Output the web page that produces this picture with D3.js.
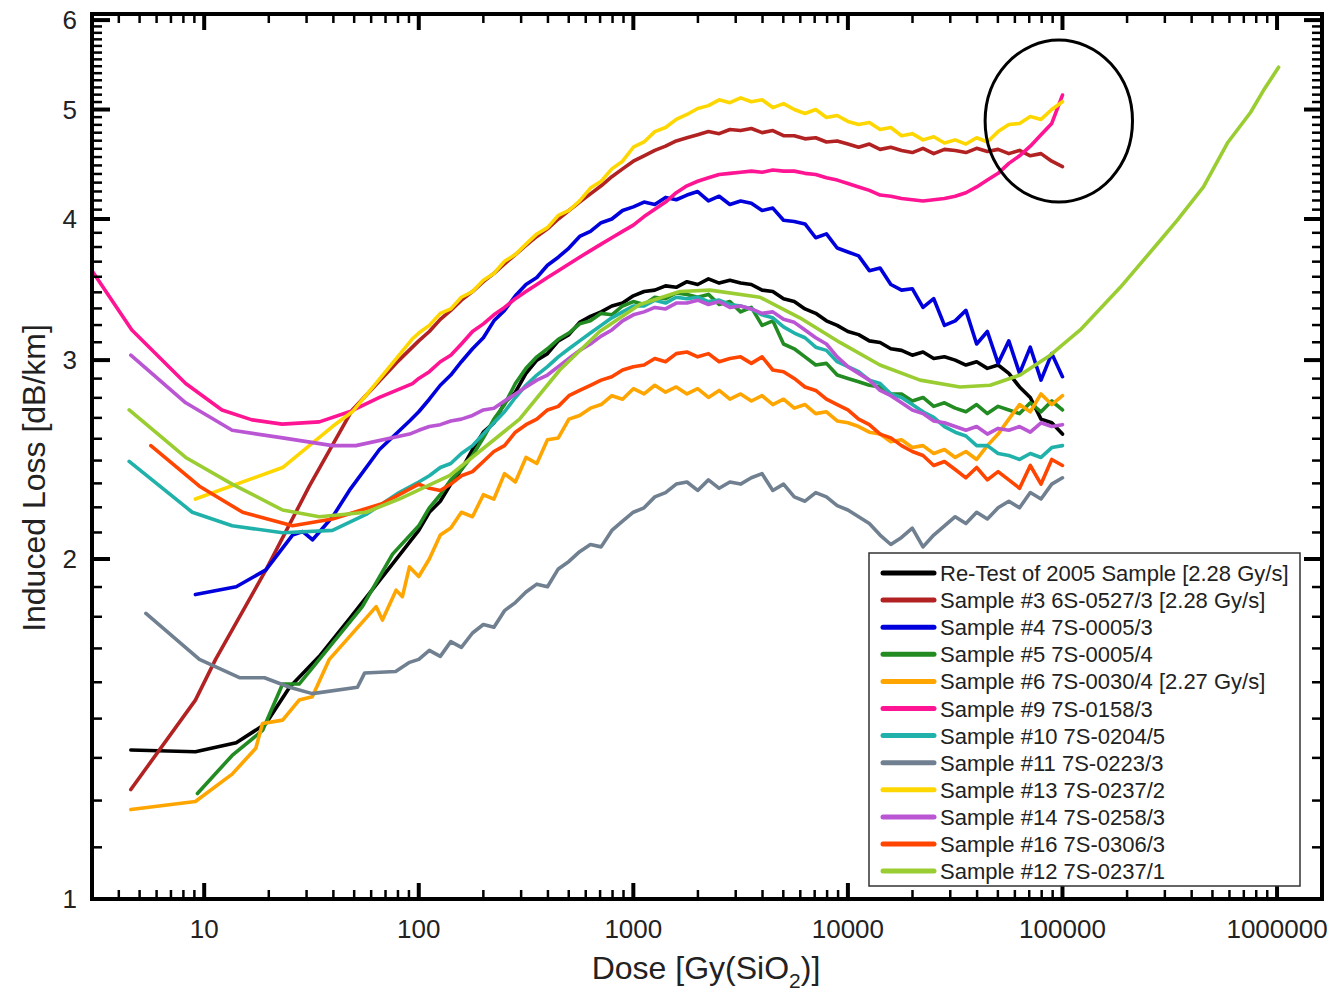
<!DOCTYPE html>
<html><head><meta charset="utf-8">
<script src="https://cdn.jsdelivr.net/npm/d3@7"></script>
<style>
body{margin:0;background:#fff;}
svg{display:block;}
text{font-family:"Liberation Sans",Arial,Helvetica,sans-serif;}
</style>
</head><body>
<svg id="c" width="1337" height="993"></svg>
<script>
// ---------- data: dose [Gy(SiO2)] and induced loss [dB/km] ----------
const seriesNames = [
  "Re-Test of 2005 Sample [2.28 Gy/s]",
  "Sample #3 6S-0527/3 [2.28 Gy/s]",
  "Sample #4 7S-0005/3",
  "Sample #5 7S-0005/4",
  "Sample #6 7S-0030/4 [2.27 Gy/s]",
  "Sample #9 7S-0158/3",
  "Sample #10 7S-0204/5",
  "Sample #11 7S-0223/3",
  "Sample #13 7S-0237/2",
  "Sample #14 7S-0258/3",
  "Sample #16 7S-0306/3",
  "Sample #12 7S-0237/1"
];
const seriesColors = ["#000000","#b22222","#0000dd","#228b22","#ffa500","#ff1493",
  "#20b2aa","#708090","#ffd700","#ba55d3","#ff4500","#9acd32"];

// dose values at which the dense (noisy) part of each record was read, 100 .. 100000 Gy
const doseGrid = [100,112,126,141,158,178,200,224,251,282,316,355,398,447,501,562,631,708,794,891,
  1000,1122,1259,1413,1585,1778,1995,2239,2512,2818,3162,3548,3981,4467,5012,5623,6310,7079,7943,8913,
  10000,11220,12589,14125,15849,17783,19953,22387,25119,28184,31623,35481,39811,44668,50119,56234,63096,
  70795,79433,89125,100000];

// low-dose parts [dose, loss]
const retestLow = [[4.55,1.355],[9.1,1.35],[14.1,1.375],[19.4,1.43],[25,1.54],[34.4,1.64],[47.5,1.77],[75.5,1.98]];
const s3Low = [[4.55,1.25],[9.1,1.5],[11.3,1.63],[19.4,1.956],[30.9,2.32],[49,2.71],[81,3.0]];
const s4Low = [[9.1,1.86],[14.1,1.89],[19.4,1.956],[25.8,2.10],[28.8,2.115],[32,2.08],[39.7,2.18],[47.5,2.30],[65.6,2.50],[90.6,2.65]];
const s5Low = [[9.3,1.24],[13.5,1.34],[18.7,1.41],[23.2,1.55],[27.7,1.55],[34.4,1.63],[54.6,1.815],[75.5,2.02]];
const s6Low = [[4.55,1.20],[9.1,1.22],[13.5,1.29],[17.4,1.36],[18.7,1.43],[23.2,1.44],[27.7,1.50],[31.9,1.51],
  [38.3,1.63],[63.3,1.815],[67.7,1.766],[78.4,1.877],[83.9,1.852],[90.5,1.968]];
const s9Low = [[3,3.6],[4.6,3.19],[8.2,2.86],[12.1,2.71],[16.7,2.656],[23.1,2.633],[34.4,2.645],[47.5,2.70],[65.6,2.78],[93.5,2.86]];
const s10Low = [[4.47,2.44],[8.8,2.20],[13.5,2.14],[23.2,2.11],[39.6,2.12],[56.8,2.19],[81,2.29]];
const s11Low = [[5.35,1.79],[9.5,1.63],[14.6,1.57],[19.1,1.57],[25,1.54],[31.9,1.52],[51.8,1.54],[55.9,1.585],[78,1.59],[90.6,1.62]];
const s13Low = [[9.1,2.26],[23.2,2.41],[39.6,2.62],[49,2.70],[63,2.86],[93,3.13]];
const s14Low = [[4.55,3.03],[8.2,2.75],[13.5,2.60],[23.2,2.56],[39.6,2.52],[50.9,2.52],[90.6,2.58]];
const s16Low = [[5.64,2.52],[9.5,2.32],[15.1,2.20],[25.8,2.14],[39.6,2.17],[68,2.24]];

// loss values on doseGrid
const retestLoss = [2.12,2.20,2.25,2.33,2.40,2.50, 2.59,2.64,2.75,2.81,2.92, 3.00,3.04,3.12,3.16,3.24,
  3.28,3.31,3.35,3.37,3.42, 3.45,3.46,3.49,3.48,3.52, 3.50,3.54,3.51,3.53,3.51, 3.50,3.46,3.45,3.40,3.38,
  3.33,3.30,3.25,3.22,3.18, 3.16,3.12,3.11,3.07,3.06, 3.03,3.05,3.01,3.02,3.00, 2.97,2.99,2.95,2.97,2.92,
  2.84,2.78,2.66,2.64,2.58];
const s3Loss = [3.12,3.18,3.26,3.32,3.39,3.45, 3.52,3.58,3.65,3.72,3.79, 3.86,3.92,4.00,4.07,4.14,
  4.21,4.28,4.36,4.43,4.50, 4.55,4.60,4.64,4.69,4.72, 4.75,4.78,4.76,4.80,4.79, 4.81,4.77,4.79,4.74,4.74,
  4.71,4.72,4.68,4.69,4.66, 4.63,4.66,4.61,4.63,4.60, 4.58,4.62,4.57,4.61,4.60, 4.58,4.62,4.59,4.61,4.57,
  4.60,4.55,4.57,4.50,4.45];
const s4Loss = [2.70,2.77,2.85,2.91,2.99,3.07, 3.14,3.25,3.32,3.42,3.50, 3.55,3.64,3.70,3.77,3.86,
  3.90,3.97,4.00,4.07,4.10, 4.14,4.12,4.18,4.16,4.20, 4.23,4.15,4.19,4.12,4.15, 4.13,4.07,4.09,3.99,3.98,
  3.96,3.85,3.88,3.77,3.74, 3.71,3.60,3.62,3.50,3.46, 3.47,3.34,3.40,3.22,3.25, 3.32,3.10,3.18,2.98,3.12,
  2.92,3.08,2.88,3.04,2.90];
const s5Loss = [2.14,2.22,2.28,2.35,2.40,2.47, 2.56,2.66,2.74,2.86,2.95, 3.02,3.07,3.13,3.17,3.23,
  3.25,3.30,3.29,3.35,3.38, 3.36,3.41,3.40,3.44,3.43, 3.41,3.43,3.36,3.38,3.31, 3.34,3.22,3.25,3.10,3.07,
  3.02,2.97,2.98,2.91,2.89, 2.87,2.85,2.84,2.80,2.80, 2.76,2.78,2.73,2.75,2.72, 2.70,2.74,2.69,2.73,2.71,
  2.69,2.75,2.70,2.76,2.71];
const s6Loss = [1.93,2.00,2.10,2.13,2.20,2.18, 2.28,2.26,2.38,2.34,2.46, 2.43,2.55,2.56,2.66,2.68,
  2.72,2.74,2.79,2.77,2.83, 2.80,2.85,2.81,2.84,2.80, 2.83,2.78,2.82,2.77,2.80, 2.76,2.79,2.74,2.77,2.72,
  2.74,2.69,2.70,2.65,2.64, 2.62,2.59,2.58,2.54,2.55, 2.51,2.52,2.48,2.50,2.46, 2.49,2.45,2.52,2.58,2.66,
  2.74,2.70,2.80,2.74,2.79];
const s9Loss = [2.89,2.93,2.99,3.03,3.10,3.18, 3.23,3.29,3.34,3.40,3.45, 3.50,3.55,3.60,3.65,3.70,
  3.75,3.80,3.85,3.90,3.95, 4.02,4.08,4.14,4.22,4.28, 4.32,4.35,4.38,4.39,4.40, 4.41,4.40,4.42,4.41,4.41,
  4.39,4.38,4.35,4.33,4.30, 4.27,4.24,4.20,4.19,4.17, 4.16,4.15,4.16,4.17,4.19, 4.22,4.27,4.33,4.39,4.48,
  4.55,4.64,4.75,4.86,5.15];
const s10Loss = [2.34,2.37,2.41,2.43,2.48,2.52, 2.58,2.64,2.70,2.78,2.85, 2.91,2.96,3.02,3.07,3.12,
  3.17,3.22,3.27,3.31,3.35, 3.35,3.39,3.37,3.41,3.40, 3.41,3.38,3.39,3.36,3.35, 3.33,3.29,3.27,3.21,3.17,
  3.14,3.08,3.06,2.99,2.96, 2.93,2.88,2.86,2.80,2.78, 2.74,2.70,2.67,2.62,2.59, 2.57,2.52,2.52,2.48,2.47,
  2.45,2.48,2.46,2.51,2.52];
const s11Loss = [1.63,1.66,1.64,1.69,1.67,1.72, 1.75,1.74,1.80,1.83,1.87, 1.90,1.89,1.96,1.99,2.03,
  2.06,2.05,2.12,2.16,2.20, 2.22,2.27,2.29,2.33,2.34, 2.30,2.35,2.31,2.34,2.33, 2.36,2.38,2.30,2.33,2.27,
  2.25,2.29,2.27,2.23,2.21, 2.18,2.15,2.10,2.06,2.09, 2.13,2.05,2.10,2.14,2.18, 2.15,2.20,2.17,2.22,2.25,
  2.22,2.29,2.26,2.33,2.36];
const s13Loss = [3.17,3.22,3.30,3.33,3.41,3.45, 3.53,3.58,3.67,3.72,3.80, 3.88,3.93,4.03,4.07,4.15,
  4.26,4.32,4.43,4.50,4.63, 4.68,4.78,4.82,4.90,4.95, 5.01,5.04,5.10,5.07,5.12, 5.08,5.10,5.02,5.06,5.00,
  4.96,5.00,4.92,4.94,4.88, 4.85,4.87,4.80,4.82,4.74, 4.76,4.70,4.73,4.67,4.70, 4.66,4.72,4.68,4.78,4.85,
  4.86,4.93,4.90,5.00,5.08];
const s14Loss = [2.60,2.62,2.63,2.65,2.66,2.68, 2.71,2.72,2.76,2.80,2.84, 2.88,2.91,2.96,3.01,3.06,
  3.10,3.15,3.19,3.25,3.29, 3.31,3.34,3.33,3.37,3.37, 3.39,3.36,3.38,3.34,3.35, 3.33,3.30,3.31,3.26,3.24,
  3.19,3.14,3.10,3.02,2.96, 2.92,2.88,2.82,2.79,2.75, 2.71,2.69,2.65,2.64,2.62, 2.60,2.62,2.58,2.61,2.60,
  2.62,2.59,2.64,2.62,2.63];
const s16Loss = [2.33,2.31,2.30,2.33,2.37,2.39, 2.44,2.49,2.52,2.59,2.63, 2.66,2.71,2.73,2.79,2.82,
  2.85,2.88,2.90,2.94,2.96, 2.97,3.01,2.99,3.04,3.05, 3.02,3.04,2.99,3.01,3.02, 2.98,3.02,2.94,2.93,2.89,
  2.84,2.82,2.77,2.74,2.71, 2.66,2.63,2.58,2.56,2.52, 2.49,2.47,2.42,2.44,2.40, 2.36,2.41,2.35,2.39,2.35,
  2.31,2.42,2.33,2.45,2.42];
// smooth record, read as [dose, loss]
const s12 = [[4.47,2.71],[8.2,2.46],[13.5,2.33],[23.2,2.21],[34.4,2.18],[56.8,2.20],[81,2.26],[139,2.37],
  [295,2.66],[454,2.94],[697,3.18],[1072,3.36],[1648,3.45],[2275,3.46],[3890,3.41],[5970,3.27],[9180,3.11],
  [14100,2.97],[21700,2.88],[33300,2.84],[46000,2.85],[63500,2.91],[87700,3.03],[121000,3.19],[186000,3.48],
  [286000,3.83],[343000,3.99],[454000,4.27],[587000,4.67],[752000,4.97],[865000,5.20],[1017000,5.45]];

const xTickValues = [10, 100, 1000, 10000, 100000, 1000000];
const xTickLabels = ["10", "100", "1000", "10000", "100000", "1000000"];
const yTickValues = [1, 2, 3, 4, 5, 6];
const yTickLabels = ["1", "2", "3", "4", "5", "6"];
// minor subdivisions per unit interval on the loss axis
const yMinorIntervals = [[1,9],[2,9],[3,9],[4,13],[5,13]];
// annotation ellipse bounding box (dose, loss)
const ellipseBox = {x0: 43600, x1: 212000, y0: 4.14, y1: 5.76};

// ---------- assemble records ----------
const onGrid = arr => doseGrid.map((d, i) => [d, arr[i]]);
const seriesData = [
  retestLow.concat(onGrid(retestLoss)),
  s3Low.concat(onGrid(s3Loss)),
  s4Low.concat(onGrid(s4Loss)),
  s5Low.concat(onGrid(s5Loss)),
  s6Low.concat(onGrid(s6Loss)),
  s9Low.concat(onGrid(s9Loss)),
  s10Low.concat(onGrid(s10Loss)),
  s11Low.concat(onGrid(s11Loss)),
  s13Low.concat(onGrid(s13Loss)),
  s14Low.concat(onGrid(s14Loss)),
  s16Low.concat(onGrid(s16Loss)),
  s12
];

// ---------- layout ----------
const L = 92, R = 1322, T = 14, B = 899;
const svg = d3.select("#c");
const x = d3.scaleLog().domain([3, 1.62e6]).range([L, R]);
const y = d3.scaleLog().domain([1, 6.075]).range([B, T]);

const xMinor = [];
[1, 10, 100, 1000, 10000, 100000, 1000000].forEach(d => {
  for (let m = 2; m <= 9; m++) { const v = m * d; if (v > 3 && v < 1.62e6) xMinor.push(v); }
});
const yMinor = [];
yMinorIntervals.forEach(([a, n]) => { for (let k = 1; k < n; k++) yMinor.push(a + k / n); });

svg.append("clipPath").attr("id","clip").append("rect")
  .attr("x",L).attr("y",T).attr("width",R-L).attr("height",B-T);

// lines
const line = d3.line().x(d => x(d[0])).y(d => y(d[1]));
const lg = svg.append("g").attr("clip-path","url(#clip)");
seriesData.forEach((s, i) => {
  lg.append("path").datum(s).attr("d", line).attr("fill","none")
    .attr("stroke", seriesColors[i]).attr("stroke-width", 3.6)
    .attr("stroke-linejoin","round").attr("stroke-linecap","round");
});

// ticks (all four sides, pointing inwards)
const tg = svg.append("g").attr("stroke","#000");
xTickValues.forEach(v => {
  tg.append("line").attr("x1",x(v)).attr("x2",x(v)).attr("y1",B).attr("y2",B-16).attr("stroke-width",4);
  tg.append("line").attr("x1",x(v)).attr("x2",x(v)).attr("y1",T).attr("y2",T+16).attr("stroke-width",4);
});
xMinor.forEach(v => {
  tg.append("line").attr("x1",x(v)).attr("x2",x(v)).attr("y1",B).attr("y2",B-9).attr("stroke-width",2.5);
  tg.append("line").attr("x1",x(v)).attr("x2",x(v)).attr("y1",T).attr("y2",T+9).attr("stroke-width",2.5);
});
yTickValues.forEach(v => {
  tg.append("line").attr("y1",y(v)).attr("y2",y(v)).attr("x1",L).attr("x2",L+18).attr("stroke-width",4);
  tg.append("line").attr("y1",y(v)).attr("y2",y(v)).attr("x1",R).attr("x2",R-18).attr("stroke-width",4);
});
yMinor.forEach(v => {
  tg.append("line").attr("y1",y(v)).attr("y2",y(v)).attr("x1",L).attr("x2",L+10).attr("stroke-width",2.5);
  tg.append("line").attr("y1",y(v)).attr("y2",y(v)).attr("x1",R).attr("x2",R-10).attr("stroke-width",2.5);
});

// frame
svg.append("rect").attr("x",L).attr("y",T).attr("width",R-L).attr("height",B-T)
  .attr("fill","none").attr("stroke","#000").attr("stroke-width",4);

// tick labels
xTickValues.forEach((v, i) => {
  svg.append("text").attr("x", x(v)).attr("y", 938).attr("text-anchor","middle")
    .attr("font-size", 26).attr("fill","#222").text(xTickLabels[i]);
});
yTickValues.forEach((v, i) => {
  svg.append("text").attr("x", 77).attr("y", y(v) + 9).attr("text-anchor","end")
    .attr("font-size", 26).attr("fill","#222").text(yTickLabels[i]);
});

// axis titles
const xt = svg.append("text").attr("x", 706).attr("y", 979).attr("text-anchor","middle")
  .attr("font-size", 32).attr("fill","#222");
xt.append("tspan").text("Dose [Gy(SiO");
xt.append("tspan").attr("font-size", 21).attr("dy", 9).text("2");
xt.append("tspan").attr("dy", -9).text(")]");
svg.append("text").attr("transform","translate(45,478) rotate(-90)").attr("text-anchor","middle")
  .attr("font-size", 32).attr("fill","#222").text("Induced Loss [dB/km]");

// annotation ellipse
const ex0 = x(ellipseBox.x0), ex1 = x(ellipseBox.x1), ey0 = y(ellipseBox.y1), ey1 = y(ellipseBox.y0);
svg.append("ellipse").attr("cx",(ex0+ex1)/2).attr("cy",(ey0+ey1)/2)
  .attr("rx",(ex1-ex0)/2).attr("ry",(ey1-ey0)/2)
  .attr("fill","none").attr("stroke","#000").attr("stroke-width",3);

// legend
const leg = svg.append("g");
leg.append("rect").attr("x",869).attr("y",553).attr("width",431).attr("height",333)
  .attr("fill","#fff").attr("stroke","#333").attr("stroke-width",1.5);
seriesNames.forEach((n, i) => {
  const yy = 573 + i * 27.1;
  leg.append("line").attr("x1",883).attr("x2",934).attr("y1",yy).attr("y2",yy)
    .attr("stroke",seriesColors[i]).attr("stroke-width",5).attr("stroke-linecap","round");
  leg.append("text").attr("x",940).attr("y",yy+8).attr("font-size",22).attr("fill","#222").text(n);
});
</script>
</body></html>
